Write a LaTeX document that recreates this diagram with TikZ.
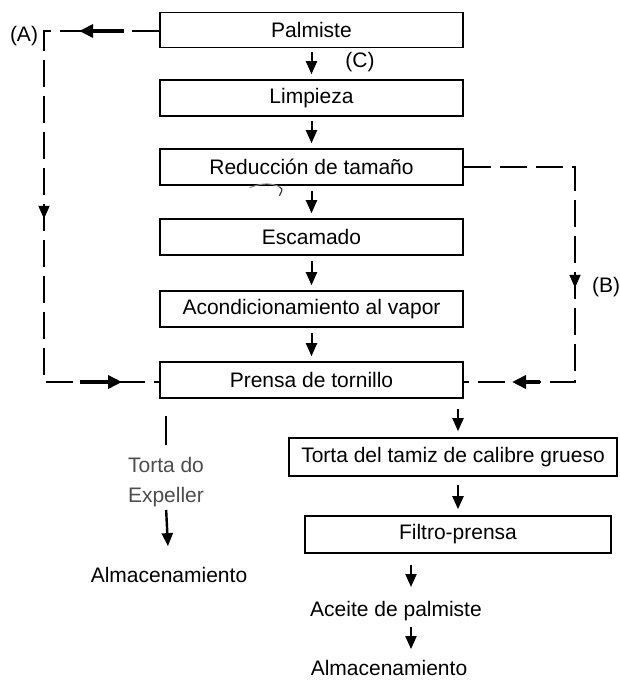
\documentclass[tikz,border=0pt]{standalone}
\usepackage{fontspec}
\setmainfont{Liberation Sans}
\usetikzlibrary{arrows.meta,decorations.markings}

\begin{document}
\begin{tikzpicture}[x=1pt,y=-1pt,
  font=\fontsize{21}{30}\selectfont,
  stage/.style={draw, line width=1.6pt, minimum width=303pt, minimum height=36pt, inner sep=0pt},
  txt/.style={inner sep=0pt},
  flow/.style={line width=2pt, -{Triangle[length=13pt,width=11pt]}},
  plain/.style={line width=2pt},
  loopline/.style={line width=1.8pt, dash pattern=on 27pt off 9pt},
  boldflow/.style={line width=3.6pt, -{Triangle[length=14pt,width=13pt]}},
  vheadat/.style={postaction={decorate, decoration={markings,
     mark=at position #1 with {\arrow{Triangle[length=13pt,width=11pt]}}}}}]

\useasboundingbox (0,0) rectangle (620,683);

% main processing line
\node[stage, minimum height=35pt] (palm) at (311.5,30) {Palmiste};
\node[stage] (limp) at (311.5,98) {Limpieza};
\node[stage] (redu) at (311.5,167) {Reducción de tamaño};
\node[stage] (esca) at (311.5,237) {Escamado};
\node[stage] (acon) at (311.5,309) {Acondicionamiento al vapor};
\node[stage] (pren) at (311.5,380) {Prensa de tornillo};

\node[txt] (lc) at (360,62) {(C)};
\node[txt] (la) at (24,36) {(A)};
\node[txt] (lb) at (606,287) {(B)};

\draw[flow, shorten <=4pt, shorten >=5pt] (palm.south) -- (limp.north);
\draw[flow, shorten <=4pt, shorten >=5pt] (limp.south) -- (redu.north);
\draw[flow, shorten <=5pt, shorten >=5pt] (redu.south) -- (esca.north);
\draw[flow, shorten <=5pt, shorten >=5pt] (esca.south) -- (acon.north);
\draw[flow, shorten <=5pt, shorten >=5pt] (acon.south) -- (pren.north);

% small stray pen stroke under the size-reduction box
\draw[black!45, line width=1pt] ([xshift=-62pt,yshift=-2pt]redu.south)
  .. controls +(12,-5) and +(-8,-4) .. ([xshift=-32pt,yshift=-1pt]redu.south);
\draw[black!80, line width=1.1pt] ([xshift=-32pt,yshift=-1pt]redu.south)
  .. controls +(5,3) and +(1,-4) .. ([xshift=-32pt,yshift=-10pt]redu.south);

% by-pass route (A)
\coordinate (a1) at (44,31);
\coordinate (a2) at (44,382);
\draw[loopline, vheadat=303pt] (palm.west |- a1) -- (a1) -- (a2) -- (pren.west |- a2);
\draw[boldflow] ([xshift=-35pt]palm.west |- a1) -- ([xshift=-80pt]palm.west |- a1);
\draw[boldflow] ([xshift=36pt]a2) -- ([xshift=78pt]a2);

% by-pass route (B)
\coordinate (b1) at (575,167);
\coordinate (b2) at (575,382);
\draw[loopline, vheadat=232pt] (redu.east) -- (b1) -- (b2) -- (pren.east |- b2);
\draw[boldflow] ([xshift=-35pt]b2) -- ([xshift=-63pt]b2);

% press cake branch
\node[txt, align=center, text=black!70] (expl) at (166,482) {Torta do\\Expeller};
\node[txt] (alml) at (169,575) {Almacenamiento};
\draw[plain, shorten <=17pt, shorten >=12pt] (pren.south -| expl.north) -- (expl.north);
\draw[flow, line width=2.4pt, shorten <=3pt, shorten >=21pt] (expl.south) -- (alml.north);

% oil branch
\node[draw, line width=1.6pt, minimum width=328pt, minimum height=38pt, inner sep=0pt] (tami) at (453,457)
  {Torta del tamiz de calibre grueso};
\node[draw, line width=1.6pt, minimum width=306pt, minimum height=37pt, inner sep=0pt] (filt) at (458,534.5)
  {Filtro-prensa};
\node[txt] (acei) at (396,611) {Aceite de palmiste};
\node[txt] (almr) at (389,668) {Almacenamiento};

\draw[flow, shorten <=10pt, shorten >=6pt] (pren.south -| filt.north) -- (tami.north -| filt.north);
\draw[flow, shorten <=8pt, shorten >=6pt] (tami.south -| filt.north) -- (filt.north);
\draw[flow, shorten <=11pt, shorten >=14pt] ([xshift=15pt]acei.north |- filt.south) -- ([xshift=15pt]acei.north);
\draw[flow, shorten <=6pt, shorten >=11pt] ([xshift=15pt]acei.south) -- ([xshift=15pt]acei.south |- almr.north);
\end{tikzpicture}
\end{document}
